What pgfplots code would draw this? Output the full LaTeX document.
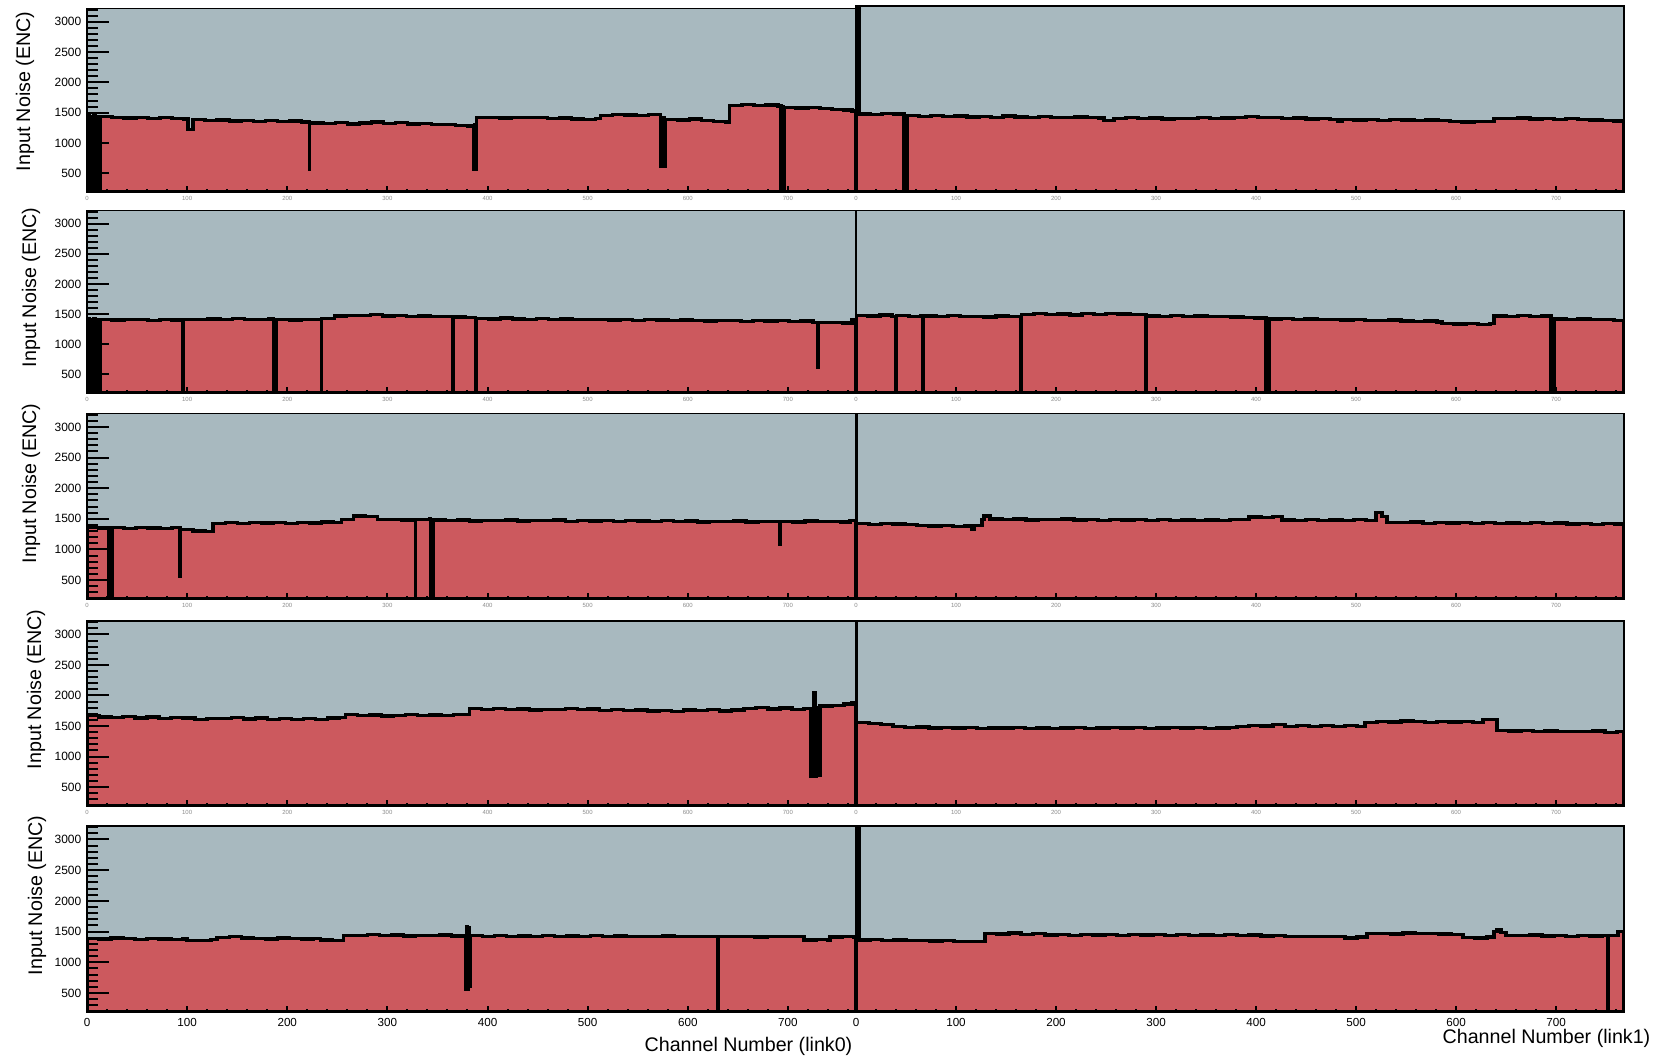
\documentclass[border=0pt]{standalone}
\usepackage{fontspec}
\setmainfont{Liberation Sans}
\usepackage{pgfplots}
\pgfplotsset{compat=1.18}
\definecolor{bgc}{RGB}{168,185,191}
\definecolor{redc}{RGB}{204,89,94}
\pgfplotsset{
  panelbase/.style={
    scale only axis, anchor=north west,
    xmin=0, xmax=768, ymin=190, ymax=3220,
    axis line style={line width=0.5pt},
    tick align=inside, xtick pos=left, ytick pos=left,
    tick style={black, line width=0.6pt},
    /pgf/number format/1000 sep={}, /pgf/number format/assume math mode=true,
    scaled ticks=false,
  },
  datapanel/.style={panelbase,
    axis background/.style={fill=bgc}, axis on top,
    xtick=\empty,
    ytick={500,1000,...,3000}, minor ytick={200,300,...,3200},
    major tick length=6.6pt, minor tick length=3.3pt,
    yticklabel style={font=\fontsize{3.6}{4}\selectfont, inner sep=0pt, xshift=-1.5pt},
  },
  xpanel/.style={panelbase,
    ytick=\empty,
    xtick={0,100,...,700}, minor xtick={0,20,...,760},
    major tick length=1.8pt, minor tick length=0.9pt,
    xticklabel style={font=\fontsize{1.8}{2}\selectfont, text=black!45, inner sep=0pt, yshift=-1.2pt},
  },
  L/.style={width=230.7pt},
  R/.style={width=230.4pt, ytick=\empty},
  bottomrow/.style={xticklabel style={font=\fontsize{3.5}{4}\selectfont, text=black, yshift=-0.4pt}},
  hist/.style={const plot, fill=redc, draw=black, line width=1pt},
}
\newcommand\xaxis[1]{\begin{axis}[xpanel,#1]\end{axis}}
\begin{document}
\begin{tikzpicture}
\path[use as bounding box, fill=white] (0,0) rectangle (498.6pt,-317.4pt);

% ---------------- Row 1 ----------------
\begin{axis}[datapanel, L, at={(26.1pt,-2.55pt)}, height=55.05pt]
\addplot[hist] coordinates {(0,1450)(2,0)(3,1440)(4,0)(5,1430)(6,0)(7,1450)(8,0)(9,1440)(10,0)(11,1430)(12,0)(13,1440)
(25,1425)(37,1410)(49,1420)(61,1400)(73,1415)(85,1405)(97,1395)
(101,1220)(106,1385)(118,1370)(130,1380)(142,1360)(154,1375)(166,1355)(178,1365)(190,1350)(202,1360)(214,1345)
(222,556)(222.4,1330)(236,1320)(248,1335)(260,1315)(272,1330)(284,1345)(296,1320)(308,1335)(320,1310)(332,1325)(344,1305)(356,1300)(368,1290)(380,1280)
(386,556)(387,1300)(388,556)(389,1425)(400,1420)(412,1410)(424,1425)(436,1415)(448,1420)(460,1405)(472,1410)(484,1395)(496,1385)(508,1400)
(513,1455)(525,1470)(537,1460)(549,1450)(561,1465)
(573,610)(574,1400)(575,610)(576,1410)(577,610)(578,1390)(590,1380)(602,1395)(614,1375)(626,1350)(638,1345)
(642,1620)(654,1630)(666,1615)(678,1625)(690,1610)
(693,0)(694,1600)(695,0)(696,1590)(708,1575)(720,1580)(732,1565)(744,1555)(756,1545)(764,1530)(768,1530)} \closedcycle;
\end{axis}
\xaxis{L, at={(26.1pt,-2.55pt)}, height=55.05pt}
\begin{axis}[datapanel, R, at={(256.8pt,-1.8pt)}, height=55.8pt, ymax=3261]
\addplot[hist] coordinates {(0,5000)(1,1480)(2,5000)(3,1480)(14,1470)(26,1490)(38,1475)
(48,0)(49,1450)(50,0)(51,1450)(63,1440)(75,1455)(87,1435)(99,1445)(111,1430)(123,1440)(135,1425)(147,1445)(159,1430)(171,1420)(183,1435)(195,1425)(207,1415)(219,1430)(231,1420)(243,1410)
(248,1370)(258,1405)(270,1415)(282,1400)(294,1410)(306,1395)(318,1405)(330,1400)(342,1415)(354,1405)(366,1410)(378,1420)(390,1440)(402,1425)(414,1415)(426,1405)(438,1410)(450,1395)(462,1400)(474,1390)
(482,1355)(486,1385)(498,1380)(510,1390)(522,1375)(534,1385)(546,1380)(558,1370)(570,1380)(582,1365)(594,1350)(606,1345)(618,1355)(630,1350)
(638,1405)(650,1400)(662,1410)(674,1395)(686,1405)(698,1390)(710,1400)(722,1385)(734,1380)(746,1370)(758,1360)(768,1360)} \closedcycle;
\end{axis}
\xaxis{R, at={(256.8pt,-1.8pt)}, height=55.8pt, ymax=3261}

% ---------------- Row 2 ----------------
\begin{axis}[datapanel, L, at={(26.1pt,-63.15pt)}, height=54.75pt]
\addplot[hist] coordinates {(0,1420)(2,0)(3,1410)(4,0)(5,1400)(6,0)(7,1420)(8,0)(9,1410)(10,0)(11,1405)(12,0)(13,1410)
(25,1400)(37,1415)(49,1405)(61,1395)(73,1410)(85,1400)
(96,0)(96.4,1415)(109,1405)(121,1420)(133,1410)(145,1425)(157,1415)(169,1405)(181,1420)
(186,0)(187,1410)(188,0)(189,1410)(202,1400)(214,1415)(226,1405)
(234,0)(234.4,1430)(247,1470)(259,1480)(271,1475)(283,1490)(295,1470)(307,1480)(319,1465)(331,1470)(343,1455)(355,1460)
(365,0)(365.4,1450)(378,1440)
(388,0)(388.4,1430)(401,1420)(413,1435)(425,1420)(437,1410)(449,1425)(461,1415)(473,1420)(485,1405)(497,1415)(509,1410)(521,1400)(533,1410)(545,1395)(557,1405)(569,1400)(581,1390)(593,1400)(605,1395)(617,1385)(629,1395)(641,1390)(653,1380)(665,1395)(677,1385)(689,1390)(701,1380)(713,1385)
(725,1360)(730,622)(730.4,1355)(743,1365)(755,1350)(764,1400)(768,1400)} \closedcycle;
\end{axis}
\xaxis{L, at={(26.1pt,-63.15pt)}, height=54.75pt}
\begin{axis}[datapanel, R, at={(256.8pt,-63.15pt)}, height=54.75pt]
\addplot[hist] coordinates {(0,1480)(12,1470)(24,1485)(36,1465)
(40,0)(40.4,1475)(53,1465)(65,1480)
(67,0)(67.4,1470)(80,1460)(92,1475)(104,1455)(116,1465)(128,1450)(140,1470)(152,1460)
(165,0)(165.4,1495)(178,1505)(190,1490)(202,1500)(214,1485)(226,1505)(238,1495)(250,1510)(262,1500)(274,1490)(286,1495)
(290,0)(290.4,1470)(303,1465)(315,1475)(327,1460)(339,1470)(351,1455)(363,1465)(375,1450)(387,1445)(399,1435)
(410,0)(411,1420)(412,0)(413,1420)(425,1425)(437,1410)(449,1420)(461,1405)(473,1415)(485,1400)(497,1405)(509,1395)(521,1390)(533,1400)(545,1385)(557,1380)(569,1385)(581,1370)
(586,1340)(598,1335)(610,1345)(622,1330)(634,1340)
(638,1470)(650,1465)(662,1475)(674,1460)(686,1470)
(695,0)(696,1420)(697,0)(698,1420)(710,1410)(722,1420)(734,1405)(746,1410)(758,1395)(768,1395)} \closedcycle;
\end{axis}
\xaxis{R, at={(256.8pt,-63.15pt)}, height=54.75pt}

% ---------------- Row 3 ----------------
\begin{axis}[datapanel, L, at={(26.1pt,-124.05pt)}, height=55.65pt]
\addplot[hist] coordinates {(0,1360)(12,1350)
(22,0)(23,1350)(24,0)(25,1355)(37,1345)(49,1360)(61,1350)(73,1340)(85,1355)
(93,555)(93.4,1330)(106,1300)(118,1290)
(126,1420)(138,1435)(150,1425)(162,1440)(174,1430)(186,1435)(198,1425)(210,1440)(222,1430)(234,1445)(246,1435)
(254,1490)(266,1545)(278,1540)(290,1485)(302,1490)(314,1480)
(328,0)(328.4,1490)(342,1495)
(343,0)(344,1480)(345,0)(346,1480)(358,1470)(370,1480)(382,1465)(394,1475)(406,1470)(418,1480)(430,1465)(442,1475)(454,1470)(466,1480)(478,1460)(490,1470)(502,1465)(514,1475)(526,1460)(538,1470)(550,1465)(562,1455)(574,1470)(586,1460)(598,1465)(610,1450)(622,1460)(634,1455)(646,1465)(658,1450)(670,1460)(682,1455)
(692,1077)(692.4,1460)(705,1450)(717,1465)(729,1455)(741,1460)(753,1450)(762,1470)(768,1470)} \closedcycle;
\end{axis}
\xaxis{L, at={(26.1pt,-124.05pt)}, height=55.65pt}
\begin{axis}[datapanel, R, at={(256.8pt,-124.05pt)}, height=55.65pt]
\addplot[hist] coordinates {(0,5000)(0.4,1420)(13,1410)(25,1425)(37,1415)(49,1405)(61,1390)(73,1380)(85,1395)(97,1375)(109,1385)
(116,1330)(118,1390)
(126,1490)(128,1545)(134,1495)(146,1485)(158,1495)(170,1480)(182,1490)(194,1485)(206,1495)(218,1480)(230,1490)(242,1475)(254,1485)(266,1480)(278,1490)(290,1475)(302,1485)(314,1470)(326,1480)(338,1470)(350,1480)(362,1475)(374,1485)(386,1490)
(393,1530)(405,1520)(417,1535)(426,1480)(438,1475)(450,1485)(462,1470)(474,1480)(486,1470)(498,1485)(510,1475)
(520,1600)(526,1540)(531,1440)(543,1435)(555,1445)(567,1425)(579,1440)(591,1430)(603,1440)(615,1425)(627,1435)(639,1420)(651,1430)(663,1425)(675,1435)(687,1420)(699,1430)(711,1415)(723,1425)(735,1410)(747,1420)(759,1415)(768,1415)} \closedcycle;
\end{axis}
\xaxis{R, at={(256.8pt,-124.05pt)}, height=55.65pt}

% ---------------- Row 4 ----------------
\begin{axis}[datapanel, L, at={(26.1pt,-186.3pt)}, height=55.5pt]
\addplot[hist] coordinates {(0,1670)(12,1650)(24,1640)(36,1655)(48,1630)(60,1645)(72,1625)(84,1640)(96,1630)(108,1610)(120,1625)(132,1620)(144,1640)(156,1615)(168,1630)(180,1610)(192,1625)(204,1605)(216,1620)(228,1610)(240,1630)(252,1640)
(258,1690)(270,1675)(282,1680)(294,1665)(306,1675)(318,1685)(330,1670)(342,1680)(354,1675)(366,1690)
(382,1785)(394,1770)(406,1790)(418,1765)(430,1780)(442,1760)(454,1775)(466,1765)(478,1790)(490,1770)
(500,1780)(512,1755)(524,1765)(536,1750)(548,1760)(560,1745)(572,1755)(584,1740)(596,1760)(608,1750)(620,1765)(632,1745)(644,1760)(656,1790)(668,1800)(680,1780)(692,1795)(704,1775)(716,1790)
(723,678)(724,1780)(725,690)(726,2050)(727,680)(728,1790)(729,700)(730,1800)(731,690)(732,1830)(744,1840)(756,1860)(764,1885)(768,1885)} \closedcycle;
\end{axis}
\xaxis{L, at={(26.1pt,-186.3pt)}, height=55.5pt}
\begin{axis}[datapanel, R, at={(256.8pt,-186.3pt)}, height=55.5pt]
\addplot[hist] coordinates {(0,5000)(0.4,1560)(13,1545)(25,1520)(37,1490)(49,1475)(61,1485)(73,1470)(85,1480)(97,1465)(109,1475)(121,1460)(133,1470)(145,1465)(157,1480)(169,1460)(181,1470)(193,1455)(205,1465)(217,1475)(229,1460)(241,1470)(253,1480)(265,1465)(277,1475)(289,1460)(301,1470)(313,1480)(325,1465)(337,1475)(349,1460)(361,1470)(373,1480)
(381,1495)(393,1510)(405,1500)(417,1520)(429,1495)(441,1505)(453,1490)(465,1510)(477,1495)(489,1505)(501,1490)
(509,1560)(521,1575)(533,1565)(545,1580)(557,1570)(569,1560)(581,1575)(593,1565)(605,1570)(617,1560)
(627,1610)(641,1430)(653,1420)(665,1425)(677,1410)(689,1420)(701,1405)(713,1415)(725,1410)(737,1420)(749,1395)(761,1410)(768,1410)} \closedcycle;
\end{axis}
\xaxis{R, at={(256.8pt,-186.3pt)}, height=55.5pt}

% ---------------- Row 5 ----------------
\begin{axis}[datapanel, L, at={(26.1pt,-247.8pt)}, height=55.8pt]
\addplot[hist] coordinates {(0,1390)(12,1380)(24,1395)(36,1385)(48,1375)(60,1390)(72,1380)(84,1370)(96,1385)
(100,1360)(112,1355)(124,1370)
(130,1400)(142,1415)(154,1395)(166,1390)(178,1380)(190,1395)(202,1385)(214,1380)(226,1390)
(233,1365)(245,1360)
(256,1440)(268,1435)(280,1450)(292,1440)(304,1445)(316,1430)(328,1440)(340,1435)(352,1445)(364,1430)(376,1440)
(378,560)(379,1580)(380,560)(381,1560)(382,600)(383,1440)(395,1425)(407,1435)(419,1420)(431,1430)(443,1425)(455,1435)(467,1420)(479,1430)(491,1425)(503,1435)(515,1420)(527,1430)(539,1415)(551,1425)(563,1420)(575,1430)(587,1415)(599,1425)(611,1420)(623,1425)
(630,0)(630.4,1420)(643,1415)(655,1425)(667,1410)(679,1420)(691,1415)(703,1425)
(716,1365)(728,1370)(740,1360)(742,1410)(754,1420)(766,1400)(768,1400)} \closedcycle;
\end{axis}
\xaxis{L, bottomrow, at={(26.1pt,-247.8pt)}, height=55.8pt}
\begin{axis}[datapanel, R, at={(256.8pt,-247.8pt)}, height=55.8pt]
\addplot[hist] coordinates {(0,5000)(1,1365)(2,5000)(3,1365)(14,1370)(26,1355)(38,1365)(50,1350)(62,1360)(74,1345)(86,1355)(98,1340)(110,1335)(122,1340)
(129,1470)(141,1460)(153,1475)(165,1450)(177,1465)(189,1445)(201,1455)(213,1440)(225,1450)(237,1445)(249,1455)(261,1440)(273,1450)(285,1445)(297,1455)(309,1440)(321,1450)(333,1440)(345,1445)(357,1435)(369,1450)(381,1440)(393,1445)(405,1430)(417,1440)(429,1425)(441,1420)(453,1425)(465,1415)(477,1420)(489,1395)(501,1410)
(511,1465)(523,1470)(535,1460)(547,1475)(559,1465)(571,1470)(583,1460)(595,1455)(607,1400)(619,1395)(631,1410)
(638,1500)(641,1530)(645,1490)(650,1440)(662,1435)(674,1445)(686,1430)(698,1440)(710,1425)(722,1435)(734,1430)(746,1440)
(752,0)(752.4,1435)(762,1500)(768,1500)} \closedcycle;
\end{axis}
\xaxis{R, bottomrow, at={(256.8pt,-247.8pt)}, height=55.8pt}

% ---------------- Titles ----------------
\begin{scope}[every node/.style={inner sep=0pt, font=\fontsize{5.9}{6}\selectfont}]
\node[rotate=90, anchor=east] at (7.5pt,-3.3pt) {Input Noise (ENC)};
\node[rotate=90, anchor=east] at (9.3pt,-62.1pt) {Input Noise (ENC)};
\node[rotate=90, anchor=east] at (9.3pt,-120.9pt) {Input Noise (ENC)};
\node[rotate=90, anchor=east] at (10.8pt,-182.7pt) {Input Noise (ENC)};
\node[rotate=90, anchor=east] at (11.1pt,-244.5pt) {Input Noise (ENC)};
\node[anchor=east] at (255.9pt,-313.8pt) {Channel Number (link0)};
\node[anchor=east] at (495.3pt,-311.4pt) {Channel Number (link1)};
\end{scope}
\end{tikzpicture}
\end{document}
